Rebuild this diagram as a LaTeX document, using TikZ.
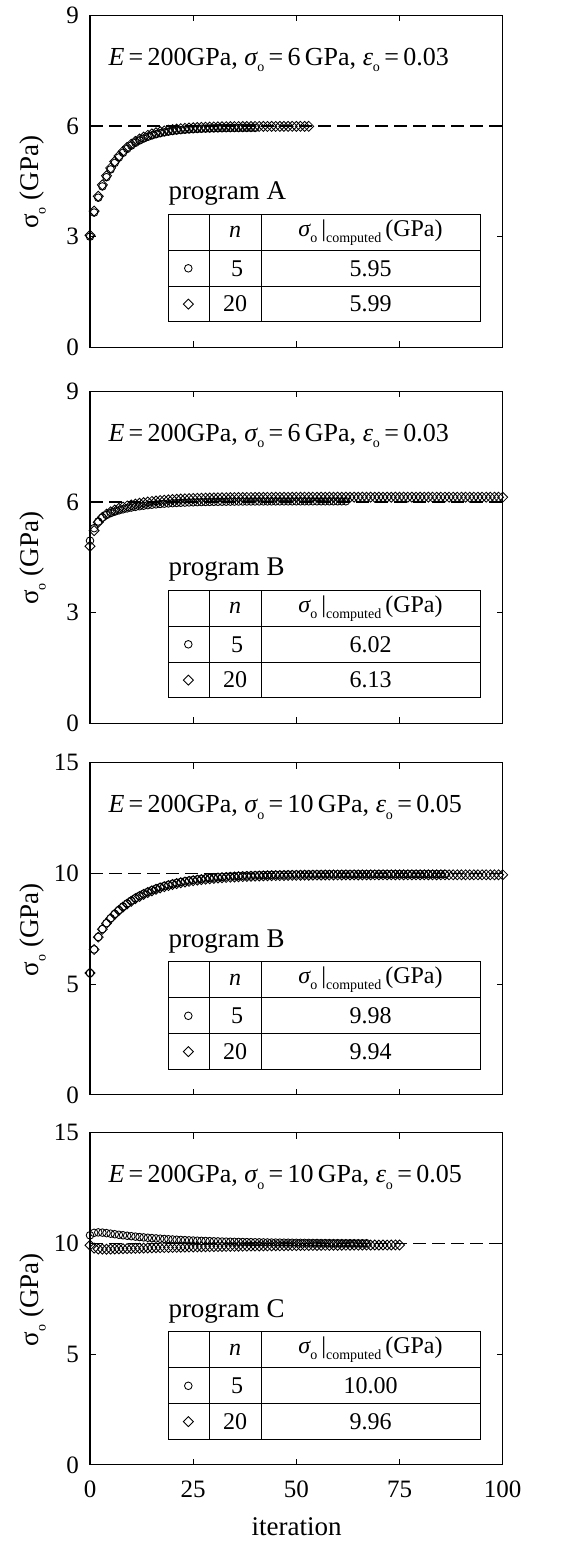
\documentclass[tikz,border=0pt]{standalone}
\usepackage{fontspec}
\setmainfont{Liberation Serif}
\tikzset{
 axbox/.style={line width=1.3pt},
 tkk/.style={line width=0.9pt},
 tbl/.style={line width=0.8pt},
 mk/.style={line width=0.85pt},
 dsh/.style={line width=1.1pt, dash pattern=on 13pt off 6pt},
 tlab/.style={font=\fontsize{25}{28}\selectfont, inner sep=0pt},
 txt/.style={font=\fontsize{27}{30}\selectfont, inner sep=0pt},
 etxt/.style={font=\fontsize{26}{29}\selectfont, inner sep=0pt},
 ttxt/.style={font=\fontsize{24}{27}\selectfont, inner sep=0pt},
 ylab/.style={font=\fontsize{27}{30}\selectfont, inner sep=0pt, rotate=90},
}
\newcommand\cmk[2]{\draw[mk] (#1,#2) circle (3.8);}
\newcommand\dmk[2]{\draw[mk] (#1,#2) ++(-5,0) -- ++(5,-5) -- ++(5,5) -- ++(-5,5) -- cycle;}
\newcommand\series[4]{\foreach \i in {0,...,#2}{\pgfmathsetmacro\vv{#3}\pgfmathsetmacro\px{90+4.127*\i}\pgfmathsetmacro\py{332-\vv*332/#4}#1{\px}{\py}}}
\newcommand\sbo{\raisebox{-0.25em}{\fontsize{14}{14}\selectfont o}}
\newcommand\sbc{\raisebox{-0.25em}{\fontsize{14}{14}\selectfont computed}}
% frame of one panel: #1 ymax, #2 inner ticks, #3 labels, #4 name prefix
\newcommand\pframe[4]{%
 \draw[axbox] (90,0) rectangle (502.7,332);
 \foreach \t in {25,50,75}{\draw[tkk] ({90+4.127*\t},332) -- ++(0,-6); \draw[tkk] ({90+4.127*\t},0) -- ++(0,6);}
 \foreach \v in {#2}{\draw[tkk] (90,{332-\v*332/#1}) -- ++(6,0); \draw[tkk] (502.7,{332-\v*332/#1}) -- ++(-6,0);}
 \foreach \v in {#3}{\node[tlab,anchor=east] (#4y\v) at (79,{332-\v*332/#1}) {\v};}
 \node[ylab] (#4ylab) at (33,167) {σ\sbo\ (GPa)};
}
% table: #1 program letter, #2 value n=5, #3 value n=20, #4 prefix, #5 E-line
\newcommand\ptable[5]{%
 \node[etxt,anchor=base west] (#4E) at (108.3,50) {#5};
 \node[txt,anchor=base west] (#4prog) at (168.3,184.3) {program #1};
 \draw[tbl] (168.3,199) rectangle (480,306.5);
 \draw[tbl] (168.3,235) -- (480,235) (168.3,271) -- (480,271);
 \draw[tbl] (209.3,199) -- (209.3,306.5) (261,199) -- (261,306.5);
 \node[ttxt] (#4hn) at (235,217) {\itshape n};
 \node[ttxt] (#4hs) at (370.5,217) {{\itshape σ}\sbo\,|\sbc\,(GPa)};
 \draw[mk] (188.3,253) circle (3.8);
 \node[ttxt] (#4n1) at (237,253) {5};
 \node[ttxt] (#4v1) at (370.5,253) {#2};
 \draw[mk] (188.3,283.8) -- (193.3,288.8) -- (188.3,293.8) -- (183.3,288.8) -- cycle;
 \node[ttxt] (#4n2) at (235,288.8) {20};
 \node[ttxt] (#4v2) at (370.5,288.8) {#3};
}
\begin{document}
\begin{tikzpicture}[x=1pt,y=-1pt]
\useasboundingbox (0,0) rectangle (565,1551);
% ---------- panel 1
\begin{scope}[shift={(0,15.3)}]
 \draw[dsh] (90,{332-6*332/9}) -- (502.7,{332-6*332/9});
 \series{\cmk}{40}{5.95-0.31*exp(-1.5*\i)-2.64*exp(-0.17*\i)}{9}
 \series{\dmk}{53}{5.99-0.31*exp(-1.5*\i)-2.64*exp(-0.17*\i)}{9}
 \pframe{9}{3,6}{0,3,6,9}{a}
 \ptable{A}{5.95}{5.99}{a}{{\itshape E}\,=\,200GPa, {\itshape σ}\sbo\,=\,6\,GPa, {\itshape ε}\sbo\,=\,0.03}
\end{scope}
% ---------- panel 2
\begin{scope}[shift={(0,391.3)}]
 \draw[dsh] (90,{332-6*332/9}) -- (502.7,{332-6*332/9});
 \series{\cmk}{62}{6.02-0.5*exp(-0.8*\i)-0.57*exp(-0.12*\i)}{9}
 \series{\dmk}{100}{6.13-0.63*exp(-0.8*\i)-0.7*exp(-0.12*\i)}{9}
 \pframe{9}{3,6}{0,3,6,9}{b}
 \ptable{B}{6.02}{6.13}{b}{{\itshape E}\,=\,200GPa, {\itshape σ}\sbo\,=\,6\,GPa, {\itshape ε}\sbo\,=\,0.03}
\end{scope}
% ---------- panel 3
\begin{scope}[shift={(0,762.8)}]
 \draw[dsh] (90,{332-10*332/15}) -- (502.7,{332-10*332/15});
 \series{\cmk}{86}{9.98-1.2*exp(-1.0*\i)-3.28*exp(-0.1*\i)}{15}
 \series{\dmk}{100}{9.94-1.2*exp(-1.0*\i)-3.24*exp(-0.1*\i)}{15}
 \pframe{15}{5,10}{0,5,10,15}{c}
 \ptable{B}{9.98}{9.94}{c}{{\itshape E}\,=\,200GPa, {\itshape σ}\sbo\,=\,10\,GPa, {\itshape ε}\sbo\,=\,0.05}
\end{scope}
% ---------- panel 4
\begin{scope}[shift={(0,1132.8)}]
 \draw[dsh] (90,{332-10*332/15}) -- (502.7,{332-10*332/15});
 \series{\cmk}{67}{10+0.6*exp(-0.06*\i)-0.23*exp(-1.0*\i)}{15}
 \series{\dmk}{75}{9.96-0.25*exp(-0.03*\i)+0.21*exp(-1.0*\i)}{15}
 \pframe{15}{5,10}{0,5,10,15}{d}
 \ptable{C}{10.00}{9.96}{d}{{\itshape E}\,=\,200GPa, {\itshape σ}\sbo\,=\,10\,GPa, {\itshape ε}\sbo\,=\,0.05}
 \foreach \t in {0,25,50,75,100}{\node[tlab] (dx\t) at ({90+4.127*\t},356.7) {\t};}
 \node[txt] (dxlab) at (296.7,393.7) {iteration};
\end{scope}
\end{tikzpicture}
\end{document}
